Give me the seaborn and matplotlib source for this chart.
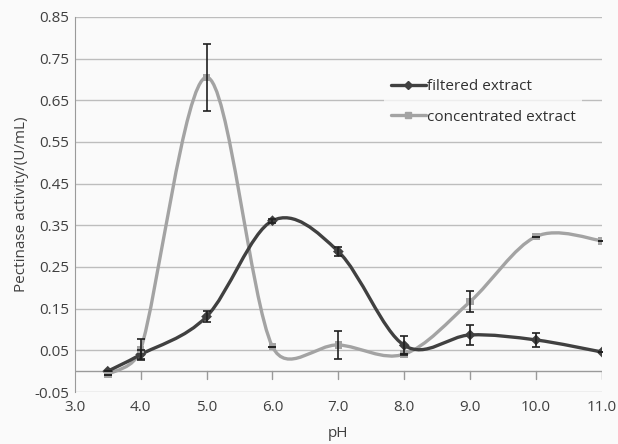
import numpy as np
import pandas as pd
import matplotlib.pyplot as plt
import seaborn as sns
from matplotlib.path import Path
from matplotlib.patches import PathPatch
from matplotlib.lines import Line2D

ph = [3.5, 4.0, 5.0, 6.0, 7.0, 8.0, 9.0, 10.0, 11.0]
filtered = [0.000, 0.040, 0.131, 0.361, 0.287, 0.062, 0.087, 0.075, 0.046]
filtered_err = [0.000, 0.010, 0.013, 0.005, 0.011, 0.022, 0.023, 0.017, 0.000]
concentrated = [-0.008, 0.052, 0.705, 0.059, 0.063, 0.041, 0.167, 0.323, 0.313]
concentrated_err = [0.000, 0.025, 0.080, 0.000, 0.034, 0.000, 0.026, 0.000, 0.000]

dark = '#404040'
light = '#a3a3a3'

def SmoothPath(ax, xs, ys):
    # excel-like smoothed line, worked out in pixel space so the handles
    # can be limited to half of each segment (keeps the curve from looping)
    pts = ax.transData.transform(np.column_stack([xs, ys]))
    n = len(pts)
    verts = [pts[0]]
    codes = [Path.MOVETO]
    for i in range(n - 1):
        p0 = pts[max(i - 1, 0)]
        p1 = pts[i]
        p2 = pts[i + 1]
        p3 = pts[min(i + 2, n - 1)]
        seg = np.hypot(*(p2 - p1))
        t1 = (p2 - p0) / 6.0
        t2 = (p3 - p1) / 6.0
        for t in (t1, t2):
            l = np.hypot(*t)
            if l > seg / 2.0:
                t *= (seg / 2.0) / l
        verts += [p1 + t1, p2 - t2, p2]
        codes += [Path.CURVE4] * 3
    verts = ax.transData.inverted().transform(np.array(verts))
    return Path(verts, codes)

df = pd.DataFrame({'pH': ph + ph,
                   'activity': filtered + concentrated,
                   'series': ['filtered extract'] * len(ph) + ['concentrated extract'] * len(ph)})

sns.set_style('white')
plt.rcParams['font.family'] = ['Open Sans', 'DejaVu Sans']

fig = plt.figure(figsize=(6.18, 4.44), dpi=100)
fig.patch.set_facecolor('#fafafa')
ax = fig.add_axes([0.121, 0.117, 0.853, 0.845])
ax.set_facecolor('#fafafa')

ax.set_xlim(3.0, 11.0)
ax.set_ylim(-0.05, 0.85)
yticks = np.arange(-0.05, 0.851, 0.1)
ax.set_yticks(yticks)
ax.set_yticklabels(['%.2f' % t for t in yticks])
for t in yticks:
    ax.axhline(t, color='#bdbdbd', lw=1, zorder=0)

# x axis crosses at y = 0
ax.axhline(0, color='#9a9a9a', lw=1, zorder=1)
for x in range(4, 12):
    ax.plot([x, x], [0, -0.019], color='#9a9a9a', lw=1, zorder=1)

ax.set_xticks(range(3, 12))
ax.set_xticklabels(['%.1f' % x for x in range(3, 12)])
ax.tick_params(axis='x', length=0, pad=6, labelsize=11, colors='#404040')
ax.tick_params(axis='y', length=0, pad=4, labelsize=11, colors='#404040')
for side in ['top', 'right', 'bottom']:
    ax.spines[side].set_visible(False)
ax.spines['left'].set_color('#9a9a9a')

ax.add_patch(PathPatch(SmoothPath(ax, ph, concentrated), fill=False, edgecolor=light, lw=2.4, zorder=3))
ax.add_patch(PathPatch(SmoothPath(ax, ph, filtered), fill=False, edgecolor=dark, lw=2.4, zorder=4))

sns.scatterplot(data=df, x='pH', y='activity', hue='series', style='series',
                markers={'filtered extract': 'D', 'concentrated extract': 's'},
                palette={'filtered extract': dark, 'concentrated extract': light},
                s=30, linewidth=0, legend=False, ax=ax, zorder=5)

ax.errorbar(ph, filtered, yerr=filtered_err, fmt='none', ecolor='#202020', elinewidth=1.2, capsize=3, capthick=1.2, zorder=6)
ax.errorbar(ph, concentrated, yerr=concentrated_err, fmt='none', ecolor='#202020', elinewidth=1.2, capsize=3, capthick=1.2, zorder=6)

ax.set_xlabel('pH', fontsize=11, color='#404040', labelpad=8)
ax.set_ylabel('Pectinase activity/(U/mL)', fontsize=11, color='#404040', labelpad=4)

handles = [Line2D([], [], color=dark, lw=2.4, marker='D', markersize=4),
           Line2D([], [], color=light, lw=2.4, marker='s', markersize=5)]
leg = ax.legend(handles, ['filtered extract', 'concentrated extract'], loc='upper left',
                bbox_to_anchor=(0.573, 0.87), frameon=True, fontsize=11, handlelength=2.3,
                handletextpad=0.1, labelspacing=1.0, borderpad=0.4)
leg.get_frame().set_facecolor('#fafafa')
leg.get_frame().set_edgecolor('none')
for txt in leg.get_texts():
    txt.set_color('#303030')

fig.savefig('out.png', dpi=100, facecolor=fig.get_facecolor())
